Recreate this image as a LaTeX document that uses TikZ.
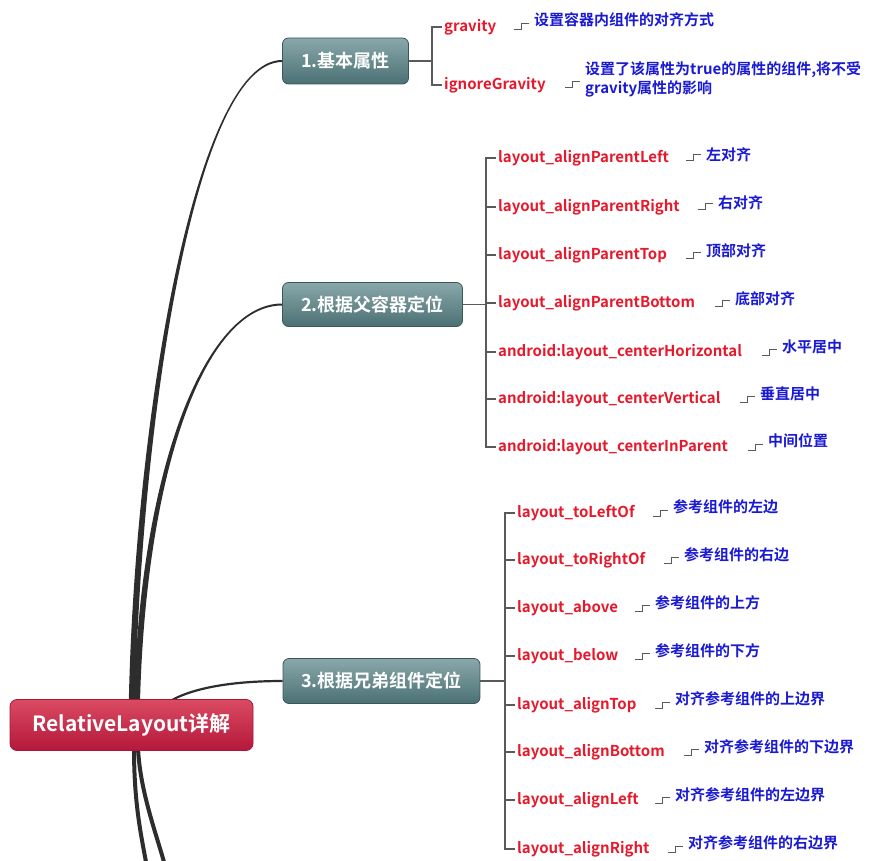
\documentclass[tikz,border=0pt]{standalone}
\usepackage{fontspec}
\setmainfont{Noto Sans CJK SC}[BoldFont={* Bold}]
\usetikzlibrary{calc,backgrounds}
\definecolor{lblred}{HTML}{E5192B}
\definecolor{descblue}{HTML}{1A1AD2}
\definecolor{tealtop}{HTML}{8AA8AB}
\definecolor{tealbot}{HTML}{4A7073}
\definecolor{tealedge}{HTML}{3C575A}
\definecolor{redtop}{HTML}{DA4A62}
\definecolor{redbot}{HTML}{B5173A}
\definecolor{rededge}{HTML}{A8163A}
\definecolor{branchc}{HTML}{5A5A5A}
\definecolor{trunkc}{HTML}{2D2D2D}
\tikzset{
  topic/.style={rounded corners=6, draw=tealedge, line width=0.8, top color=tealtop, bottom color=tealbot,
    text=white, font=\bfseries\fontsize{18}{21}\selectfont, inner sep=0},
  rootnode/.style={rounded corners=7, draw=rededge, line width=0.8, top color=redtop, bottom color=redbot,
    text=white, font=\bfseries\fontsize{21}{24}\selectfont, inner sep=0},
  lbl/.style={anchor=west, inner sep=0, text=lblred, font=\bfseries\fontsize{15}{18}\selectfont},
  desc/.style={anchor=west, inner sep=0, text=descblue, font=\bfseries\fontsize{15}{19}\selectfont, align=left},
  branch/.style={draw=branchc, line width=1.1},
  stepc/.style={draw=branchc, line width=1},
  trunk/.style={fill=trunkc},
}
\newcommand\stepconn[2]{\draw[stepc] ([xshift=-20pt]#2.west |- #1.east) ++(0,3) -- ++(7,0) -- ++(0,-6) -- ++(8,0);}
\newcommand\taper[6]{\fill[trunk] ($(#1)+(-#5,0)$) .. controls ($(#2)+(-#5,0)$) and ($(#3)+(0,-#6)$) .. ($(#4)+(0,-#6)$) -- ($(#4)+(0,#6)$) .. controls ($(#3)+(0,#6)$) and ($(#2)+(#5,0)$) .. ($(#1)+(#5,0)$) -- cycle;}
\begin{document}
\begin{tikzpicture}[x=1pt,y=-1pt]
\useasboundingbox (0,0) rectangle (878,861);
% main nodes
\node[rootnode, minimum width=243, minimum height=51] (root) at (131.5,725) {RelativeLayout详解};
\node[topic, minimum width=126, minimum height=46] (n1) at (345.5,61) {1.基本属性};
\node[topic, minimum width=180, minimum height=44] (n2) at (372.5,304.5) {2.根据父容器定位};
\node[topic, minimum width=197, minimum height=45] (n3) at (381.5,681) {3.根据兄弟组件定位};
% trunk curves
\coordinate (sA) at (132,702);
\coordinate (cA1) at (138,420);
\coordinate (cA2) at (195,61);
\coordinate (sB) at (137,702);
\coordinate (cB1) at (143,470);
\coordinate (cB2) at (205,304.5);
\coordinate (sC) at (172,700);
\coordinate (sD1) at (134,748);
\coordinate (eD1) at (146,862);
\coordinate (sD2) at (138,748);
\coordinate (eD2) at (164,862);
\begin{pgfonlayer}{background}
\taper{sA}{cA1}{cA2}{n1.west}{3.2}{1}
\taper{sB}{cB1}{cB2}{n2.west}{3}{1}
\draw[trunkc, line width=2.2] (sC) .. controls (198,686) and (240,681) .. (n3.west);
\draw[trunkc, line width=4] (sD1) .. controls (134,800) and (140,830) .. (eD1);
\draw[trunkc, line width=4] (sD2) .. controls (140,790) and (155,830) .. (eD2);
\end{pgfonlayer}
% group 1
\node[lbl] (l11) at (444,27) {gravity};
\node[lbl] (l12) at (444,85) {ignoreGravity};
\node[desc] (d11) at (534,20) {设置容器内组件的对齐方式};
\node[desc] (d12) at (585,79.5) {设置了该属性为true的属性的组件,将不受\\gravity属性的影响};
\coordinate (j1) at (432,61);
\draw[branch] (n1.east) -- (j1);
\draw[branch] ([xshift=-2pt]l11.west) -| (j1) |- ([xshift=-2pt]l12.west);
\stepconn{l11}{d11}
\stepconn{l12}{d12}
% group 2
\node[lbl] (l21) at (498,158) {layout\_alignParentLeft};
\node[lbl] (l22) at (498,207) {layout\_alignParentRight};
\node[lbl] (l23) at (498,255) {layout\_alignParentTop};
\node[lbl] (l24) at (498,303) {layout\_alignParentBottom};
\node[lbl] (l25) at (498,352) {android:layout\_centerHorizontal};
\node[lbl] (l26) at (498,399) {android:layout\_centerVertical};
\node[lbl] (l27) at (498,447) {android:layout\_centerInParent};
\node[desc] (d21) at (706,155) {左对齐};
\node[desc] (d22) at (718,203) {右对齐};
\node[desc] (d23) at (706,251) {顶部对齐};
\node[desc] (d24) at (735,299) {底部对齐};
\node[desc] (d25) at (782,347) {水平居中};
\node[desc] (d26) at (760,394) {垂直居中};
\node[desc] (d27) at (768,441) {中间位置};
\coordinate (j2) at (486,304.5);
\draw[branch] (n2.east) -- (j2);
\draw[branch] ([xshift=-2pt]l21.west) -| (j2) |- ([xshift=-2pt]l27.west);
\foreach \i in {2,...,6}{\draw[branch] ([xshift=-2pt]l2\i.west) -- (l2\i.west -| j2);}
\foreach \i in {1,...,7}{\stepconn{l2\i}{d2\i}}
% group 3
\node[lbl] (l31) at (517,513) {layout\_toLeftOf};
\node[lbl] (l32) at (517,560) {layout\_toRightOf};
\node[lbl] (l33) at (517,608) {layout\_above};
\node[lbl] (l34) at (517,656) {layout\_below};
\node[lbl] (l35) at (517,705) {layout\_alignTop};
\node[lbl] (l36) at (517,752) {layout\_alignBottom};
\node[lbl] (l37) at (517,800) {layout\_alignLeft};
\node[lbl] (l38) at (517,849) {layout\_alignRight};
\node[desc] (d31) at (673,507) {参考组件的左边};
\node[desc] (d32) at (684,555) {参考组件的右边};
\node[desc] (d33) at (655,603) {参考组件的上方};
\node[desc] (d34) at (655,651) {参考组件的下方};
\node[desc] (d35) at (675,699) {对齐参考组件的上边界};
\node[desc] (d36) at (704,747) {对齐参考组件的下边界};
\node[desc] (d37) at (675,795) {对齐参考组件的左边界};
\node[desc] (d38) at (688,843) {对齐参考组件的右边界};
\coordinate (j3) at (505,681);
\draw[branch] (n3.east) -- (j3);
\draw[branch] ([xshift=-2pt]l31.west) -| (j3) |- ([xshift=-2pt]l38.west);
\foreach \i in {2,...,7}{\draw[branch] ([xshift=-2pt]l3\i.west) -- (l3\i.west -| j3);}
\foreach \i in {1,...,8}{\stepconn{l3\i}{d3\i}}
\end{tikzpicture}
\end{document}
